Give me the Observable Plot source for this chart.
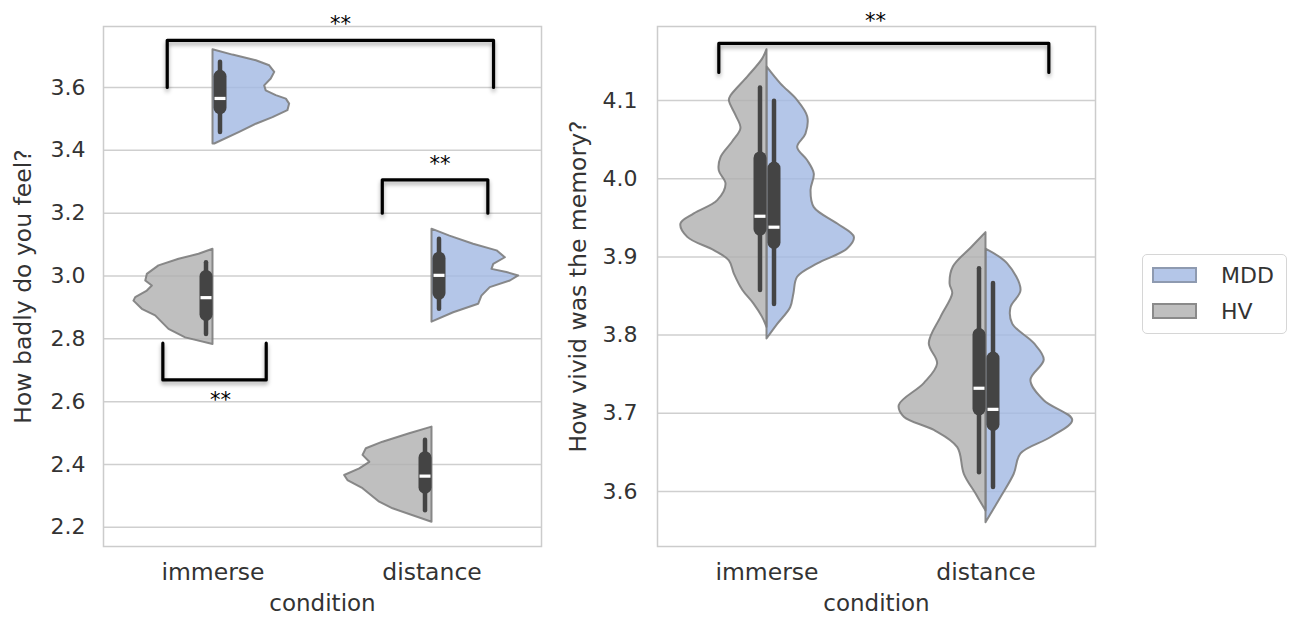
<!DOCTYPE html>
<html><head><meta charset="utf-8">
<script src="https://cdn.jsdelivr.net/npm/d3@7"></script>
<script src="https://cdn.jsdelivr.net/npm/@observablehq/plot@0.6"></script>
<style>
body{margin:0;background:#fff;font-family:"DejaVu Sans",sans-serif;}
#chart{position:relative;width:1291px;height:618px;overflow:hidden;}
#chart svg{position:absolute;top:0;overflow:visible;}
g[aria-label="line"]{filter:drop-shadow(0px 3px 2px rgba(0,0,0,0.35));}
#legend{position:absolute;left:1142px;top:254px;width:145px;height:80px;border:1.5px solid #d6d6d6;border-radius:5px;box-sizing:border-box;background:#fff;}
.item{position:absolute;left:9px;height:22px;display:flex;align-items:center;font-size:22px;color:#333;}
.sw{width:45px;height:16px;margin-right:24px;box-sizing:border-box;border:2px solid #8a8a8a;}
</style></head><body><div id="chart"><div id="legend"></div></div>
<script>
// ---------- data ----------
const categories = ["immerse", "distance"];
const groups = ["MDD", "HV"];

// panel 1: "How badly do you feel?" — violin profiles [value, half-width in category units]
const badlyImmerseMDD = [[3.720,0],[3.703,0.091],[3.685,0.198],[3.669,0.259],[3.648,0.282],[3.627,0.266],[3.605,0.236],[3.589,0.243],[3.574,0.289],[3.563,0.335],[3.547,0.350],[3.526,0.342],[3.504,0.274],[3.483,0.198],[3.457,0.122],[3.420,0.008]];
const badlyImmerseHV = [[3.085,0],[3.069,0.064],[3.053,0.155],[3.032,0.247],[3.005,0.300],[2.984,0.307],[2.968,0.277],[2.952,0.300],[2.931,0.353],[2.920,0.361],[2.894,0.323],[2.873,0.262],[2.830,0.201],[2.803,0.125],[2.782,0]];
const badlyDistanceMDD = [[3.149,0],[3.127,0.082],[3.101,0.190],[3.080,0.297],[3.058,0.335],[3.037,0.282],[3.021,0.274],[3.011,0.342],[3.000,0.396],[2.984,0.358],[2.963,0.266],[2.936,0.228],[2.910,0.213],[2.883,0.099],[2.853,0]];
const badlyDistanceHV = [[2.519,0],[2.498,0.102],[2.471,0.224],[2.450,0.300],[2.429,0.315],[2.407,0.284],[2.386,0.330],[2.365,0.399],[2.349,0.384],[2.323,0.315],[2.280,0.239],[2.259,0.178],[2.216,0]];
const badlyBoxes = [
  {cond:"immerse", group:"MDD", lo:3.457, q1:3.534, med:3.565, q3:3.634, hi:3.680},
  {cond:"immerse", group:"HV", lo:2.814, q1:2.876, med:2.931, q3:2.997, hi:3.042},
  {cond:"distance", group:"MDD", lo:2.894, q1:2.944, med:3.002, q3:3.055, hi:3.117},
  {cond:"distance", group:"HV", lo:2.253, q1:2.326, med:2.363, q3:2.420, hi:2.477}
];
const badlyBrackets = [
  {x1:-0.209, x2:1.281, top:3.750, leg:3.600, label:"**", labelX:0.582, labelY:3.817},
  {x1:0.773, x2:1.255, top:3.306, leg:3.200, label:"**", labelX:1.036, labelY:3.370},
  {x1:-0.229, x2:0.243, top:2.669, leg:2.786, label:"**", labelX:0.034, labelY:2.621}
];
const badlyDomain = [2.139, 3.794];
const badlyTicks = [2.2, 2.4, 2.6, 2.8, 3.0, 3.2, 3.4, 3.6];

// panel 2: "How vivid was the memory?"
const vividImmerseHV = [[4.165,0],[4.153,0.020],[4.130,0.088],[4.106,0.164],[4.100,0.172],[4.081,0.142],[4.064,0.119],[4.047,0.157],[4.027,0.210],[4.010,0.218],[3.993,0.187],[3.972,0.225],[3.955,0.332],[3.942,0.393],[3.925,0.362],[3.908,0.241],[3.895,0.172],[3.878,0.149],[3.857,0.110],[3.840,0.060],[3.823,0.021],[3.810,0]];
const vividImmerseMDD = [[4.143,0],[4.121,0.064],[4.100,0.140],[4.079,0.186],[4.057,0.178],[4.040,0.140],[4.023,0.186],[4.006,0.216],[3.985,0.201],[3.963,0.216],[3.942,0.323],[3.925,0.399],[3.910,0.368],[3.891,0.232],[3.874,0.140],[3.853,0.123],[3.835,0.108],[3.814,0.050],[3.795,0]];
const vividDistanceHV = [[3.931,0],[3.912,0.065],[3.887,0.149],[3.865,0.164],[3.853,0.152],[3.823,0.205],[3.789,0.259],[3.763,0.221],[3.738,0.282],[3.710,0.396],[3.695,0.373],[3.678,0.236],[3.656,0.129],[3.622,0.099],[3.597,0.046],[3.575,0]];
const vividDistanceMDD = [[3.910,0],[3.891,0.099],[3.857,0.160],[3.835,0.114],[3.814,0.122],[3.789,0.221],[3.768,0.266],[3.742,0.205],[3.716,0.266],[3.691,0.396],[3.669,0.297],[3.648,0.160],[3.622,0.129],[3.592,0.068],[3.560,0]];
const vividBoxes = [
  {cond:"immerse", group:"HV", lo:3.857, q1:3.935, med:3.952, q3:4.026, hi:4.116},
  {cond:"immerse", group:"MDD", lo:3.839, q1:3.918, med:3.938, q3:4.013, hi:4.099},
  {cond:"distance", group:"HV", lo:3.624, q1:3.705, med:3.732, q3:3.800, hi:3.885},
  {cond:"distance", group:"MDD", lo:3.605, q1:3.685, med:3.705, q3:3.770, hi:3.866}
];
const vividBrackets = [
  {x1:-0.220, x2:1.287, top:4.173, leg:4.136, label:"**", labelX:0.495, labelY:4.2075}
];
const vividDomain = [3.5296, 4.1947];
const vividTicks = [3.6, 3.7, 3.8, 3.9, 4.0, 4.1];

// ---------- drawing ----------
const colors = {MDD: "#a1b8e2", HV: "#afafaf"};
const idx = c => categories.indexOf(c);

function rows(profile, cond, group) {
  return profile.map(([value, density]) => ({cond, group, value, density, key: cond + group}));
}

const medianSymbol = {draw(ctx) { ctx.moveTo(-5.5,-1.6); ctx.lineTo(5.5,-1.6); ctx.lineTo(5.5,1.6); ctx.lineTo(-5.5,1.6); ctx.closePath(); }};

function panel({violins, boxes, brackets, domain, ticks, label, curve, left, width, marginLeft, marginRight, labelDx, tickPad}) {
  const bracketPts = brackets.flatMap((b, i) => [
    {i, x: b.x1, y: b.leg}, {i, x: b.x1, y: b.top}, {i, x: b.x2, y: b.top}, {i, x: b.x2, y: b.leg}
  ]);
  const boxMarks = [];
  for (const [g, dx] of [["HV", -7], ["MDD", 7]]) {
    const f = d => d.group === g;
    boxMarks.push(
      Plot.ruleX(boxes, {filter: f, x: d => idx(d.cond), y1: "lo", y2: "hi", stroke: "#444", strokeWidth: 4.5, strokeLinecap: "round", dx}),
      Plot.ruleX(boxes, {filter: f, x: d => idx(d.cond), y1: "q1", y2: "q3", stroke: "#444", strokeWidth: 13, strokeLinecap: "round", dx}),
      Plot.dot(boxes, {filter: f, x: d => idx(d.cond), y: "med", symbol: medianSymbol, fill: "white", stroke: "none", dx})
    );
  }
  const svg = Plot.plot({
    width, height: 618,
    marginLeft, marginRight, marginTop: 26, marginBottom: 72,
    style: {fontFamily: "DejaVu Sans", color: "#333", background: "transparent", overflow: "visible"},
    x: {domain: [-0.5, 1.5], axis: null},
    y: {domain, axis: null},
    color: {domain: groups, range: [colors.MDD, colors.HV]},
    marks: [
      Plot.gridY(ticks, {stroke: "#cfcfcf", strokeOpacity: 1, strokeWidth: 1.5}),
      Plot.frame({stroke: "#cccccc", strokeWidth: 1.5}),
      Plot.axisY(ticks, {tickSize: 0, tickPadding: tickPad, tickFormat: d3.format(".1f"), fontSize: 22, label: null}),
      Plot.axisX([0, 1], {tickSize: 0, tickPadding: 17, tickFormat: i => categories[i], fontSize: 23.5, label: null}),
      Plot.text([label], {text: d => d, frameAnchor: "left", dx: labelDx, rotate: -90, textAnchor: "middle", lineAnchor: "middle", fontSize: 23.5, fill: "#333"}),
      Plot.text(["condition"], {text: d => d, frameAnchor: "bottom", dy: 57.5, textAnchor: "middle", lineAnchor: "middle", fontSize: 23, fill: "#333"}),
      Plot.areaX(violins, {
        y: "value",
        x1: d => idx(d.cond) - (d.group === "HV" ? d.density : 0),
        x2: d => idx(d.cond) + (d.group === "MDD" ? d.density : 0),
        z: "key", fill: "group", fillOpacity: 0.8,
        stroke: "#7d7d7d", strokeWidth: 2, strokeOpacity: 0.9, curve
      }),
      ...boxMarks,
      Plot.line(bracketPts, {x: "x", y: "y", z: "i", stroke: "black", strokeWidth: 3.2}),
      Plot.text(brackets, {x: "labelX", y: "labelY", text: "label", fontSize: 21, dy: 5, fill: "black"})
    ]
  });
  svg.style.left = left + "px";
  document.getElementById("chart").appendChild(svg);
}

panel({
  violins: [
    ...rows(badlyImmerseMDD, "immerse", "MDD"), ...rows(badlyImmerseHV, "immerse", "HV"),
    ...rows(badlyDistanceMDD, "distance", "MDD"), ...rows(badlyDistanceHV, "distance", "HV")
  ],
  boxes: badlyBoxes, brackets: badlyBrackets, domain: badlyDomain, ticks: badlyTicks,
  label: "How badly do you feel?", curve: "linear",
  left: 0, width: 560, marginLeft: 103, marginRight: 19, labelDx: -80, tickPad: 18
});

panel({
  violins: [
    ...rows(vividImmerseMDD, "immerse", "MDD"), ...rows(vividImmerseHV, "immerse", "HV"),
    ...rows(vividDistanceMDD, "distance", "MDD"), ...rows(vividDistanceHV, "distance", "HV")
  ],
  boxes: vividBoxes, brackets: vividBrackets, domain: vividDomain, ticks: vividTicks,
  label: "How vivid was the memory?", curve: "catmull-rom",
  left: 560, width: 560, marginLeft: 97, marginRight: 25, labelDx: -79, tickPad: 20
});

// legend
const legend = document.getElementById("legend");
groups.forEach((g, i) => {
  const item = document.createElement("div");
  item.className = "item";
  item.style.top = (i === 0 ? 9 : 45) + "px";
  const sw = document.createElement("span");
  sw.className = "sw";
  sw.style.background = g === "MDD" ? "#b4c6e8" : "#bfbfbf";
  sw.style.borderColor = g === "MDD" ? "#8e9ab0" : "#8a8a8a";
  item.appendChild(sw);
  item.appendChild(document.createTextNode(g));
  legend.appendChild(item);
});
</script></body></html>
